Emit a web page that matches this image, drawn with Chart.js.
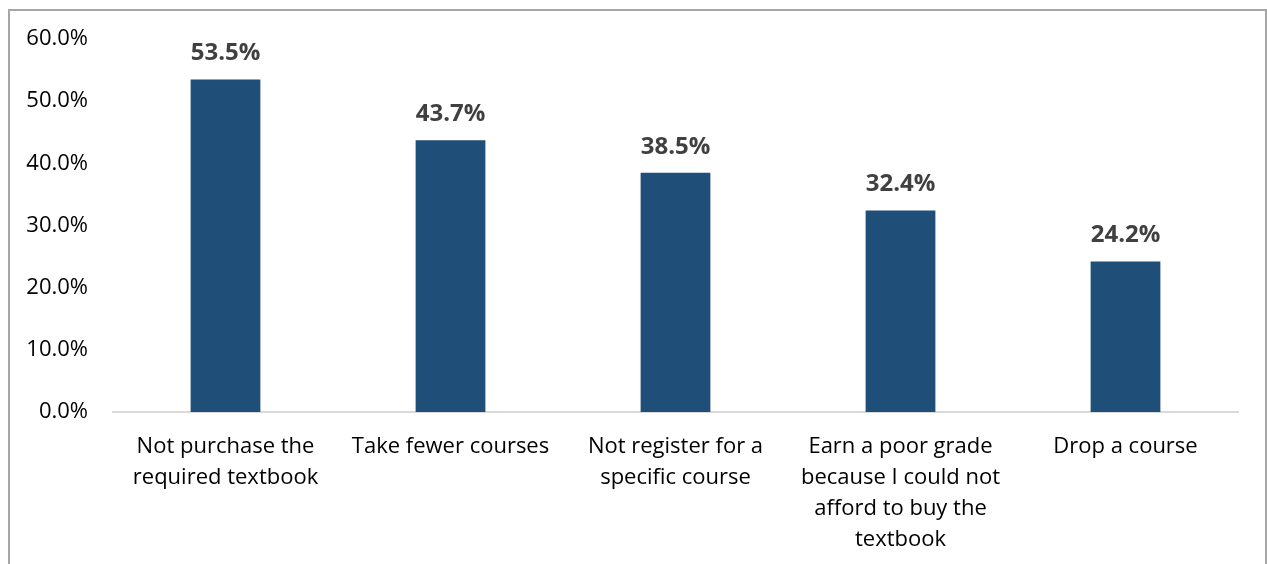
<!DOCTYPE html>
<html>
<head>
<meta charset="utf-8">
<script src="https://cdn.jsdelivr.net/npm/chart.js@4/dist/chart.umd.min.js"></script>
<style>
  html, body { margin: 0; padding: 0; background: #fff; overflow: hidden; }
  #wrap { position: absolute; left: 0; top: 0; width: 1267px; height: 564px; }
  #marco { position: absolute; left: 8px; top: 9px; width: 1255px; height: 600px;
           border: 2px solid #a6a6a6; pointer-events: none; }
</style>
</head>
<body>
<div id="wrap"><canvas id="grafico"></canvas></div>
<div id="marco"></div>
<script>
var categorias = [
  ['Not purchase the', 'required textbook'],
  ['Take fewer courses'],
  ['Not register for a', 'specific course'],
  ['Earn a poor grade', 'because I could not', 'afford to buy the', 'textbook'],
  ['Drop a course']
];
var valores = [53.5, 43.7, 38.5, 32.4, 24.2];
var ejeY = { min: 0, max: 60, paso: 10 };

// etiquetas encima de cada barra
var etiquetasBarras = {
  id: 'etiquetasBarras',
  afterDatasetsDraw: function (chart) {
    var ctx = chart.ctx;
    var meta = chart.getDatasetMeta(0);
    ctx.save();
    ctx.font = 'bold 24px "Open Sans"';
    ctx.fillStyle = '#404040';
    ctx.textAlign = 'center';
    ctx.textBaseline = 'middle';
    meta.data.forEach(function (bar, i) {
      ctx.fillText(valores[i].toFixed(1) + '%', bar.x, bar.y - 26);
    });
    ctx.restore();
  }
};

var ctx = document.getElementById('grafico');
new Chart(ctx, {
  type: 'bar',
  plugins: [etiquetasBarras],
  data: {
    labels: categorias,
    datasets: [{
      data: valores,
      backgroundColor: '#1f4e79',
      borderWidth: 0,
      barPercentage: 0.31,
      categoryPercentage: 1
    }]
  },
  options: {
    responsive: true,
    maintainAspectRatio: false,
    animation: false,
    layout: { padding: { top: 39, right: 29, bottom: 0, left: 0 } },
    plugins: {
      legend: { display: false },
      tooltip: { enabled: false }
    },
    scales: {
      x: {
        grid: { display: false, drawTicks: false },
        border: { display: true, color: '#d9d9d9', width: 2 },
        ticks: {
          color: '#000',
          padding: 19,
          maxRotation: 0,
          autoSkip: false,
          font: { family: 'Open Sans', size: 22, lineHeight: 1.41 }
        },
        afterFit: function (scale) { scale.height = 152; }
      },
      y: {
        min: ejeY.min,
        max: ejeY.max,
        grid: { display: false, drawTicks: false },
        border: { display: false },
        ticks: {
          stepSize: ejeY.paso,
          color: '#000',
          padding: 25,
          font: { family: 'Open Sans', size: 22 },
          callback: function (v) { return v.toFixed(1) + '%'; }
        },
        afterFit: function (scale) { scale.width = 113; }
      }
    }
  }
});
</script>
</body>
</html>
